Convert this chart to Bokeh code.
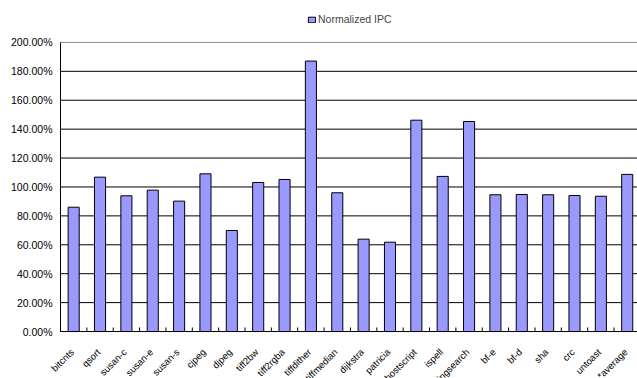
from bokeh.plotting import figure
from bokeh.core.properties import value
from bokeh.models import ColumnDataSource, Range1d, Legend, LegendItem, LabelSet
from bokeh.embed import file_html
from bokeh.resources import INLINE

benchmarks = ["bitcnts", "qsort", "susan-c", "susan-e", "susan-s", "cjpeg", "djpeg",
              "tiff2bw", "tiff2rgba", "tiffdither", "tiffmedian", "dijkstra", "patricia",
              "ghostscript", "ispell", "stringsearch", "bf-e", "bf-d", "sha", "crc",
              "untoast", "*average"]
normalized_ipc = [0.860, 1.068, 0.939, 0.978, 0.902, 1.091, 0.699, 1.031, 1.052, 1.871,
                  0.960, 0.639, 0.618, 1.462, 1.073, 1.453, 0.946, 0.948, 0.946, 0.941,
                  0.936, 1.087]
y_ticks = [0.0, 0.2, 0.4, 0.6, 0.8, 1.0, 1.2, 1.4, 1.6, 1.8, 2.0]
y_tick_labels = ["%.2f%%" % (v * 100) for v in y_ticks]
series_name = "Normalized IPC"

FONT = "Liberation Sans"
BAR_FILL = "#9999FF"

n = len(benchmarks)
xs = [i + 0.5 for i in range(n)]
src = ColumnDataSource(dict(x=xs, ipc=normalized_ipc, name=benchmarks))

bounds = list(range(n + 1))
tick_src = ColumnDataSource(dict(x=bounds, y0=[0.0] * len(bounds), y1=[0.028] * len(bounds)))
grid_y = y_ticks[1:-1]
grid_src = ColumnDataSource(dict(y=grid_y, x0=[0] * len(grid_y), x1=[n] * len(grid_y)))
ylab_src = ColumnDataSource(dict(x=[0] * len(y_ticks), y=y_ticks, t=y_tick_labels))

# The frame covers the whole canvas so rotated category labels are not clipped;
# the value axis (0%..200%) and category axis are drawn inside it.
p = figure(width=637, height=378, output_backend="svg", toolbar_location=None,
           x_range=Range1d(-2.276, 21.89), y_range=Range1d(-0.325, 2.29),
           x_axis_location=None, y_axis_location=None, min_border=0)
p.outline_line_color = None
p.background_fill_color = "white"
p.border_fill_color = "white"
p.xgrid.visible = False
p.ygrid.visible = False

# horizontal gridlines
p.segment(x0="x0", y0="y", x1="x1", y1="y", source=grid_src, line_color="black", line_width=1)
p.segment(x0=[0], y0=[y_ticks[-1]], x1=[n], y1=[y_ticks[-1]], line_color="#8c8c8c", line_width=1)

r = p.vbar(x="x", top="ipc", bottom=0, width=0.42, source=src,
           fill_color=BAR_FILL, line_color="black", line_width=1)

# category axis: baseline + small tick marks at category boundaries
p.segment(x0=[0], y0=[y_ticks[0]], x1=[n], y1=[y_ticks[0]], line_color="black", line_width=1)
p.segment(x0="x", y0="y0", x1="x", y1="y1", source=tick_src, line_color="black", line_width=1)
# value axis line
p.segment(x0=[0], y0=[y_ticks[0]], x1=[0], y1=[y_ticks[-1]], line_color="black", line_width=1)

ylabels = LabelSet(x="x", y="y", text="t", source=ylab_src, x_offset=-8,
                   text_align="right", text_baseline="middle", text_font=value(FONT),
                   text_font_size="10.5px", text_color="black")
p.add_layout(ylabels)

xlabels = LabelSet(x="x", y=-0.13, text="name", source=src, angle=0.785398,
                   angle_units="rad", x_offset=-1.5, text_align="right",
                   text_baseline="middle", text_font=value(FONT), text_font_size="9.5px",
                   text_color="black")
p.add_layout(xlabels)

legend = Legend(items=[LegendItem(label=series_name, renderers=[r])],
                location=(307, 353), orientation="horizontal",
                glyph_width=9, glyph_height=7, label_standoff=2, padding=0, margin=0,
                spacing=0, border_line_color=None, background_fill_alpha=0,
                label_text_font=FONT, label_text_font_size="10.5px", label_height=10)
p.add_layout(legend)

open("out.html", "w").write(file_html(p, INLINE))
